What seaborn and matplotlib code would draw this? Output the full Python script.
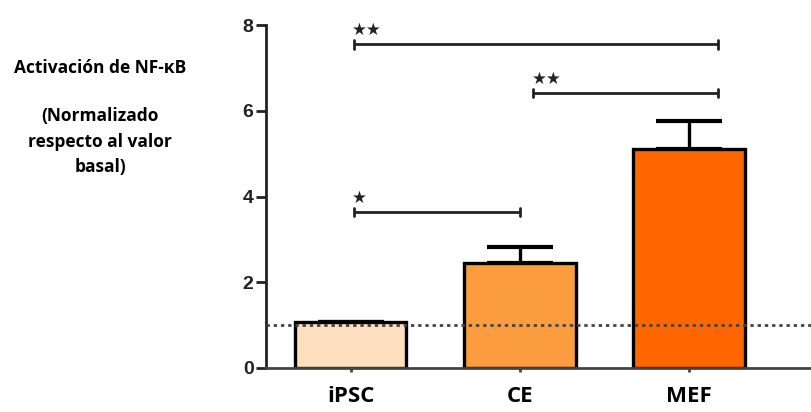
import numpy as np
import pandas as pd
import seaborn as sns
import matplotlib.pyplot as plt

# datos
grupos = ['iPSC', 'CE', 'MEF']
activacion = [1.08, 2.45, 5.10]
error_sup = [0.0, 0.37, 0.66]
colores = ['#FDDEBE', '#FB9D3F', '#FF6600']
yticks = [0, 2, 4, 6, 8]

# comparaciones (grupo inicio, grupo fin, altura, etiqueta)
comparaciones = [(0.02, 2.17, 7.55, '★★'), (1.08, 2.17, 6.41, '★★'), (0.02, 1.0, 3.64, '★')]

# texto del eje y (lineas)
titulo_y = 'Activación de NF-κB'
subtitulo_y = ['(Normalizado', 'respecto al valor', 'basal)']

sns.set_style('ticks')
plt.rcParams['font.family'] = ['Open Sans', 'DejaVu Sans']

df = pd.DataFrame({'grupo': grupos, 'valor': activacion})

fig = plt.figure(figsize=(8.11, 4.12), dpi=100)
ax = fig.add_axes([266 / 811, 1 - 368 / 412, (811 - 266) / 811, (368 - 25) / 412])

sns.barplot(data=df, x='grupo', y='valor', hue='grupo', palette=colores, legend=False,
            saturation=1, edgecolor='black', linewidth=2.4, width=0.66, ax=ax, zorder=2)
ax.errorbar(x=np.arange(len(grupos)), y=activacion,
            yerr=[np.zeros(len(grupos)), error_sup], fmt='none',
            ecolor='black', elinewidth=2.4, capsize=24, capthick=3, zorder=1)

# linea basal
ax.axhline(1.0, color='#444444', linestyle=(0, (1.2, 1.4)), linewidth=2, zorder=3)

# barras de significancia
for x0, x1, h, txt in comparaciones:
    ax.plot([x0, x1], [h, h], color='#222222', lw=2, solid_capstyle='butt', zorder=4)
    ax.plot([x0, x0], [h - 0.1, h + 0.1], color='#222222', lw=2, zorder=4)
    ax.plot([x1, x1], [h - 0.1, h + 0.1], color='#222222', lw=2, zorder=4)
    ax.text(x0 - 0.01, h + 0.12, txt, ha='left', va='bottom', fontsize=12,
            color='#222222', family='DejaVu Sans')

ax.set_ylim(0, 8)
ax.set_xlim(-0.5, 2.72)
ax.set_yticks(yticks)
ax.set_yticklabels([str(t) for t in yticks], family='Liberation Sans',
                   fontweight='bold', fontsize=14, color='#222222')
ax.set_xticks(range(len(grupos)))
ax.set_xticklabels(grupos, fontweight='bold', fontsize=16, color='black')
ax.tick_params(axis='y', length=7, width=2, pad=2, color='#222222')
ax.tick_params(axis='x', length=3, width=2, pad=10, color='#444444')
ax.set_xlabel('')
ax.set_ylabel('')
sns.despine(ax=ax)
ax.spines['left'].set_linewidth(2)
ax.spines['left'].set_color('#222222')
ax.spines['bottom'].set_linewidth(2)
ax.spines['bottom'].set_color('#444444')

# titulo del eje y a la izquierda
fig.text(100 / 811, 1 - 68 / 412, titulo_y, ha='center', va='center',
         fontsize=12.5, fontweight='bold', color='black')
for yp, linea in zip([116, 142, 167], subtitulo_y):
    fig.text(100 / 811, 1 - yp / 412, linea, ha='center', va='center',
             fontsize=12.5, fontweight='bold', color='black')

fig.savefig('out.png', dpi=100)
